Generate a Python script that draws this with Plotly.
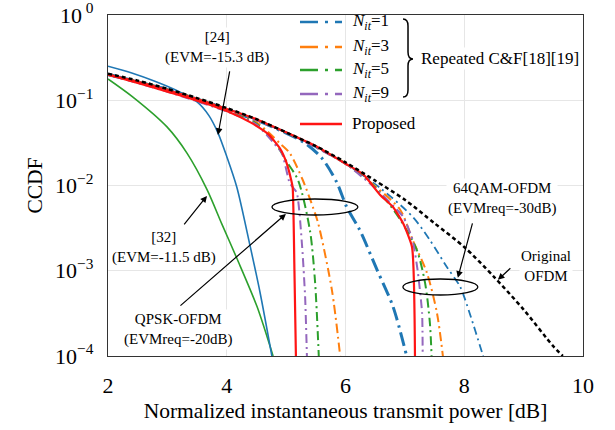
import plotly.graph_objects as go

# ---------------- CCDF data (x: normalized instantaneous power [dB]) ----------------
# Original OFDM
orig_x = [2.0, 2.5, 3.0, 3.5, 4.0, 4.5, 5.0, 5.5, 6.0, 6.5, 7.0, 7.5, 8.0, 8.5, 9.0, 9.5, 9.66]
orig_y = [0.205, 0.17, 0.136, 0.106, 0.081, 0.060, 0.042, 0.029, 0.0187, 0.0114, 0.0068,
          0.0036, 0.0019, 0.00085, 0.00035, 0.00013, 0.0001]

# [24] (EVM = -15.3 dB)
ref24_x = [2.0, 2.4, 2.8, 3.2, 3.5, 3.7, 3.85, 4.0, 4.17, 4.39, 4.56, 4.76]
ref24_y = [0.251, 0.209, 0.166, 0.126, 0.0955, 0.066, 0.0417, 0.0219, 0.00955, 0.0020, 0.00056, 0.0001]

# [32] (EVM = -11.5 dB)
ref32_x = [2.0, 2.42, 2.99, 3.33, 3.67, 3.92, 4.17, 4.51, 4.78]
ref32_y = [0.178, 0.109, 0.049, 0.024, 0.0089, 0.0035, 0.0014, 0.00038, 0.0001]

# QPSK-OFDM (EVMreq = -20 dB)
qpsk_prop_x = [2.0, 2.5, 3.0, 3.5, 4.0, 4.4, 4.7, 4.9, 5.0, 5.08, 5.11, 5.14, 5.165]
qpsk_prop_y = [0.20, 0.16, 0.126, 0.099, 0.075, 0.055, 0.040, 0.027, 0.019, 0.012, 0.0095, 0.001, 0.0001]
qpsk_n1_x = [2.0, 3.0, 4.0, 4.7, 5.3, 5.6, 5.85, 6.02, 6.24, 6.53, 6.8, 7.03]
qpsk_n1_y = [0.20, 0.133, 0.078, 0.051, 0.032, 0.021, 0.011, 0.0056, 0.0030, 0.00103, 0.00038, 0.0001]
qpsk_n3_x = [2.0, 3.0, 4.0, 4.5, 4.9, 5.06, 5.28, 5.45, 5.54, 5.77, 5.91]
qpsk_n3_y = [0.20, 0.13, 0.076, 0.055, 0.031, 0.024, 0.0116, 0.0056, 0.0036, 0.0006, 0.0001]
qpsk_n5_x = [2.0, 3.0, 4.0, 4.5, 4.85, 5.01, 5.2, 5.4, 5.485, 5.55]
qpsk_n5_y = [0.20, 0.128, 0.075, 0.053, 0.029, 0.019, 0.0116, 0.0030, 0.00078, 0.0001]
qpsk_n9_x = [2.0, 3.0, 4.0, 4.5, 4.8, 4.93, 5.06, 5.18, 5.27, 5.32, 5.35]
qpsk_n9_y = [0.20, 0.126, 0.074, 0.052, 0.031, 0.024, 0.0107, 0.0082, 0.0019, 0.00049, 0.0001]

# 64QAM-OFDM (EVMreq = -30 dB)
qam_prop_x = [2.0, 2.5, 3.0, 3.5, 4.0, 4.5, 5.0, 5.5, 6.0, 6.3, 6.58, 6.8, 6.97, 7.12, 7.17]
qam_prop_y = [0.20, 0.165, 0.132, 0.103, 0.079, 0.060, 0.042, 0.029, 0.018, 0.0135, 0.0078,
              0.0056, 0.0036, 0.0019, 0.0001]
qam_n1_x = [2.0, 3.0, 4.0, 5.0, 6.0, 6.58, 7.13, 7.42, 7.71, 7.93, 8.09, 8.3, 8.32]
qam_n1_y = [0.205, 0.135, 0.08, 0.042, 0.018, 0.0094, 0.0043, 0.0023, 0.0011, 0.00065, 0.00032, 0.00011, 0.0001]
qam_n3_x = [2.0, 3.0, 4.0, 5.0, 6.0, 6.5, 6.92, 7.13, 7.37, 7.54, 7.64]
qam_n3_y = [0.20, 0.134, 0.079, 0.042, 0.0182, 0.0098, 0.0052, 0.0023, 0.00095, 0.00032, 0.0001]
qam_n5_x = [2.0, 3.0, 4.0, 5.0, 6.0, 6.5, 6.92, 7.2, 7.34, 7.42, 7.45]
qam_n5_y = [0.20, 0.134, 0.079, 0.042, 0.018, 0.0095, 0.0040, 0.00176, 0.00072, 0.00025, 0.0001]
qam_n9_x = [2.0, 3.0, 4.0, 5.0, 6.0, 6.5, 6.97, 7.13, 7.22, 7.29, 7.30]
qam_n9_y = [0.20, 0.133, 0.079, 0.042, 0.018, 0.0093, 0.0043, 0.0023, 0.00095, 0.00032, 0.0001]

x_ticks = [2, 4, 6, 8, 10]
y_ticks = [1e-4, 1e-3, 1e-2, 1e-1, 1]
y_tick_text = ["10<sup>−4</sup>", "10<sup>−3</sup>", "10<sup>−2</sup>", "10<sup>−1</sup>", "10<sup> 0</sup>"]

legend_labels = ["<i>N</i><sub><i>it</i></sub>=1", "<i>N</i><sub><i>it</i></sub>=3",
                 "<i>N</i><sub><i>it</i></sub>=5", "<i>N</i><sub><i>it</i></sub>=9", "Proposed"]

# ---------------- styles ----------------
BLUE = "#1f77b4"
ORANGE = "#ff7f0e"
GREEN = "#2ca02c"
PURPLE = "#9467bd"
RED = "#ff1414"
FONT = "Liberation Serif"
DD = "9px,4px,2px,4px"

fig = go.Figure()


def add(x, y, color, width, dash="solid", smooth=0.8):
    fig.add_trace(go.Scatter(x=x, y=y, mode="lines", showlegend=False,
                             line=dict(color=color, width=width, dash=dash,
                                       shape="spline", smoothing=smooth)))


add(ref32_x, ref32_y, GREEN, 1.6)
add(ref24_x, ref24_y, BLUE, 1.6)

add(qpsk_n1_x, qpsk_n1_y, BLUE, 3, "14px,5px,2.5px,5px")
add(qpsk_n3_x, qpsk_n3_y, ORANGE, 2, DD)
add(qpsk_n5_x, qpsk_n5_y, GREEN, 2, DD)
add(qpsk_n9_x, qpsk_n9_y, PURPLE, 2, DD, 0.5)

add(qam_n1_x, qam_n1_y, BLUE, 1.8, "8px,4px,2px,4px")
add(qam_n3_x, qam_n3_y, ORANGE, 2, DD)
add(qam_n5_x, qam_n5_y, GREEN, 2, DD)
add(qam_n9_x, qam_n9_y, PURPLE, 2, DD, 0.5)

add(qpsk_prop_x, qpsk_prop_y, RED, 2.2, smooth=0.5)
add(qam_prop_x, qam_prop_y, RED, 2.2, smooth=0.5)

add(orig_x, orig_y, "black", 2.5, "4px,3px")

# ---------------- legend (drawn by hand) ----------------
shapes = []
annotations = []
shapes.append(dict(type="rect", xref="paper", yref="paper", x0=0.368, x1=0.7305, y0=0.663, y1=1.0,
                   fillcolor="white", line=dict(width=0), layer="between"))
leg_y = [0.9795, 0.9062, 0.8387, 0.7683, 0.6804]
leg_col = [BLUE, ORANGE, GREEN, PURPLE, RED]
leg_dash = ["18px,7px,3px,7px"] * 4 + ["solid"]
for yy, col, dsh, lab in zip(leg_y, leg_col, leg_dash, legend_labels):
    shapes.append(dict(type="line", xref="paper", yref="paper", x0=0.4042, x1=0.4926, y0=yy, y1=yy,
                       line=dict(color=col, width=2.5, dash=dsh)))
    annotations.append(dict(xref="paper", yref="paper", x=0.5095, y=yy, text=lab, showarrow=False,
                            xanchor="left", yanchor="middle", font=dict(family=FONT, size=17, color="black")))

# curly brace grouping the repeated C&F entries
shapes.append(dict(type="path", xref="paper", yref="paper",
                   path="M 0.6211 0.9883 Q 0.6316 0.9883 0.6316 0.9677 L 0.6316 0.8915 "
                        "Q 0.6316 0.8710 0.6421 0.8710 Q 0.6316 0.8710 0.6316 0.8504 "
                        "L 0.6316 0.7801 Q 0.6316 0.7595 0.6211 0.7595",
                   line=dict(color="black", width=1.5)))
annotations.append(dict(xref="paper", yref="paper", x=0.655, y=0.871, text="Repeated C&F[18][19]",
                        showarrow=False, xanchor="left", yanchor="middle", bgcolor="white",
                        font=dict(family=FONT, size=17, color="black")))

# ellipses marking the two modulation groups
shapes.append(dict(type="circle", xref="x", yref="y domain", x0=4.761, x1=6.209, y0=0.4135, y1=0.4604,
                   line=dict(color="black", width=1.3)))
shapes.append(dict(type="circle", xref="x", yref="y domain", x0=6.966, x1=8.229, y0=0.1789, y1=0.2258,
                   line=dict(color="black", width=1.3)))

# text labels (y positions in log10 units)
labels = [
    (3.835, -0.387, "[24]<br>(EVM=-15.3 dB)"),
    (2.943, -2.732, "[32]<br>(EVM=-11.5 dB)"),
    (3.178, -3.693, "QPSK-OFDM<br>(EVMreq=-20dB)"),
    (8.633, -2.157, "64QAM-OFDM<br>(EVMreq=-30dB)"),
    (9.374, -2.943, "Original<br>OFDM"),
]
for lx, ly, txt in labels:
    annotations.append(dict(x=lx, y=ly, xref="x", yref="y", text=txt, showarrow=False,
                            bgcolor="white", font=dict(family=FONT, size=15, color="black")))

# arrows: head in data coords (log10 for y), tail offsets in pixels
arrows = [
    (3.852, -1.407, 12, -65),
    (3.667, -2.122, -24, 30),
    (4.997, -2.333, -107, 93),
    (7.892, -3.083, 15, -56),
    (8.566, -3.107, 14, -13),
]
for hx, hy, axp, ayp in arrows:
    annotations.append(dict(x=hx, y=hy, xref="x", yref="y", ax=axp, ay=ayp, text="",
                            showarrow=True, arrowhead=2, arrowsize=1.1, arrowwidth=1.2,
                            arrowcolor="black"))

fig.update_layout(
    width=615, height=430,
    margin=dict(l=108, r=32, t=15, b=74),
    paper_bgcolor="white", plot_bgcolor="white",
    font=dict(family=FONT, size=18, color="black"),
    shapes=shapes, annotations=annotations,
    xaxis=dict(range=[2, 10], tickvals=x_ticks, showgrid=True, gridcolor="#e6e6e6", gridwidth=1,
               zeroline=False, showline=True, linecolor="#333333", linewidth=1.2, mirror=True,
               ticks="outside", ticklen=9, tickcolor="rgba(0,0,0,0)",
               ticklabeloverflow="allow", automargin=False,
               tickfont=dict(family=FONT, size=22),
               title=dict(text="Normalized instantaneous transmit power [dB]", standoff=6,
                          font=dict(family=FONT, size=21.5))),
    yaxis=dict(type="log", range=[-4, 0], tickvals=y_ticks, ticktext=y_tick_text,
               showgrid=True, gridcolor="#e6e6e6", gridwidth=1, zeroline=False,
               showline=True, linecolor="#333333", linewidth=1.2, mirror=True,
               ticks="outside", ticklen=9, tickcolor="rgba(0,0,0,0)",
               ticklabeloverflow="allow", automargin=False,
               tickfont=dict(family=FONT, size=22),
               title=dict(text="CCDF", standoff=6, font=dict(family=FONT, size=21.5))),
)

fig.write_html("out.html")
